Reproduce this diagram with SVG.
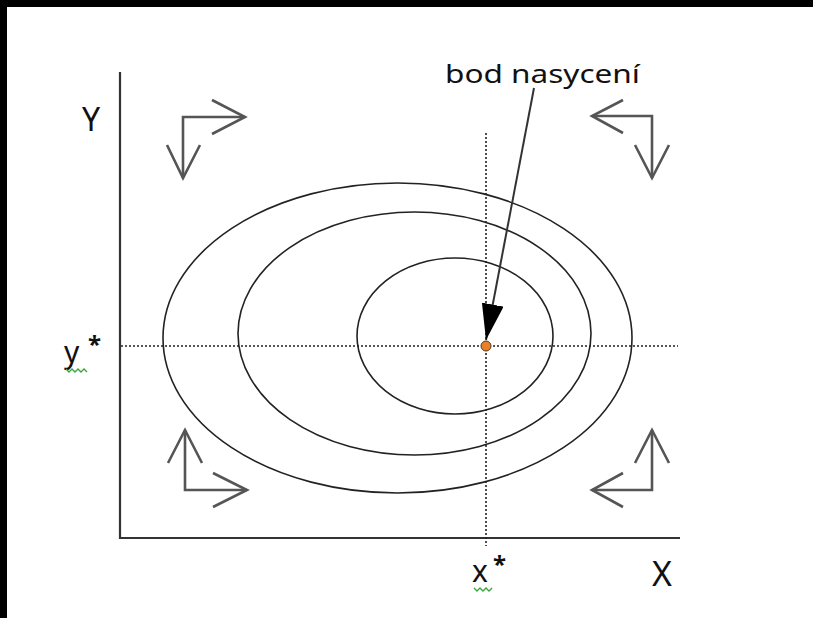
<svg xmlns="http://www.w3.org/2000/svg" width="813" height="618" viewBox="0 0 813 618">
  <style>
    .lbl { font-family: "Noto Sans", "Open Sans", sans-serif; fill: #111; }
    .ax { stroke: #333; stroke-width: 2.2; fill: none; }
    .dot { stroke: #222; stroke-width: 1.6; stroke-dasharray: 2 2; fill: none; }
    .ell { stroke: #222; stroke-width: 1.6; fill: none; }
    .corner { stroke: #555; stroke-width: 2.6; fill: none; stroke-linejoin: miter; }
    .sq { stroke: #3aa63a; stroke-width: 1.4; fill: none; }
  </style>
  <defs>
    <marker id="head" viewBox="0 0 36 22" refX="36" refY="11" markerWidth="36" markerHeight="22" markerUnits="userSpaceOnUse" orient="auto">
      <path d="M0,0 L36,11 L0,22 Z" fill="#000"/>
    </marker>
  </defs>
  <rect x="0" y="0" width="813" height="618" fill="#000"/>
  <rect x="7" y="7" width="806" height="611" fill="#fff"/>

  <g id="axes">
    <line class="ax" x1="120" y1="72" x2="120" y2="539"/>
    <line class="ax" x1="119" y1="538" x2="680" y2="538"/>
  </g>

  <g id="guides">
    <line class="dot" x1="121" y1="346" x2="678" y2="346"/>
    <line class="dot" x1="486" y1="133" x2="486" y2="546"/>
  </g>

  <g id="indifference-curves">
    <ellipse class="ell" cx="397.5" cy="338" rx="234.5" ry="155"/>
    <ellipse class="ell" cx="414.5" cy="333.5" rx="176.5" ry="121.5"/>
    <ellipse class="ell" cx="455" cy="336" rx="98" ry="78"/>
  </g>

  <g id="corner-arrows">
    <g id="arrow-top-left">
      <path class="corner" d="M245,117 L183,117 L183,178"/>
      <path class="corner" d="M212,100 L245,117 L212,134"/>
      <path class="corner" d="M167,145 L183,178 L200,145"/>
    </g>
    <g id="arrow-top-right">
      <path class="corner" d="M592,116 L652,116 L652,178"/>
      <path class="corner" d="M623,100 L592,116 L623,133"/>
      <path class="corner" d="M635,145 L652,178 L669,145"/>
    </g>
    <g id="arrow-bottom-left">
      <path class="corner" d="M185,430 L185,490 L247,490"/>
      <path class="corner" d="M168,463 L185,430 L202,463"/>
      <path class="corner" d="M213,473 L247,490 L213,507"/>
    </g>
    <g id="arrow-bottom-right">
      <path class="corner" d="M652,430 L652,490 L592,490"/>
      <path class="corner" d="M635,463 L652,430 L669,463"/>
      <path class="corner" d="M623,473 L592,490 L623,507"/>
    </g>
  </g>

  <g id="connectors">
    <line x1="534" y1="88" x2="486" y2="340" stroke="#333" stroke-width="2" marker-end="url(#head)"/>
  </g>

  <g id="saturation-point">
    <circle cx="486" cy="346" r="5" fill="#e8802a" stroke="#5a3a1a" stroke-width="1"/>
  </g>

  <g id="labels">
    <text class="lbl" x="445" y="83" font-size="26" textLength="195" lengthAdjust="spacingAndGlyphs">bod nasycení</text>
    <text class="lbl" x="82" y="131" font-size="32">Y</text>
    <text class="lbl" x="652" y="586" font-size="34">X</text>
    <text class="lbl" x="64" y="363" font-size="30">y</text>
    <text class="lbl" x="88" y="353" font-size="24" font-weight="bold">*</text>
    <text class="lbl" x="472" y="582" font-size="30">x</text>
    <text class="lbl" x="493" y="573" font-size="24" font-weight="bold">*</text>
    <path class="sq" d="M66,369 l3,3 l3,-3 l3,3 l3,-3 l3,3 l3,-3 l3,3"/>
    <path class="sq" d="M474,588 l3,3 l3,-3 l3,3 l3,-3 l3,3 l3,-3"/>
  </g>
</svg>
